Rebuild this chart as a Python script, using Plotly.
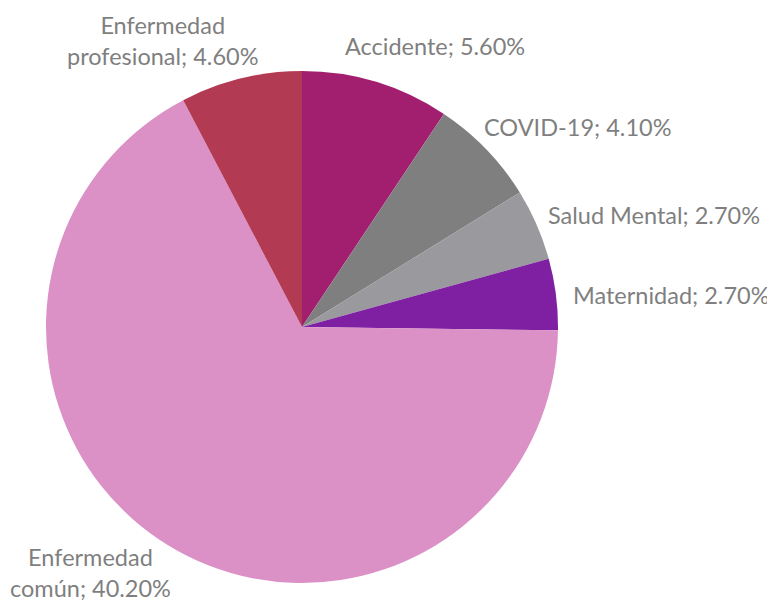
import plotly.graph_objects as go

categories = ["Accidente", "COVID-19", "Salud Mental", "Maternidad",
              "Enfermedad común", "Enfermedad profesional"]
values = [5.60, 4.10, 2.70, 2.70, 40.20, 4.60]
label_texts = ["Accidente; 5.60%", "COVID-19; 4.10%", "Salud Mental; 2.70%",
               "Maternidad; 2.70%", "Enfermedad<br>común; 40.20%",
               "Enfermedad<br>profesional; 4.60%"]
colors = ["#A21F6F", "#7F7F7F", "#9A9A9E", "#7F1FA2", "#DB90C6", "#B33A53"]

W, H = 775, 601
OFF = 8  # page body margin
# label centre positions in pixels (layout only)
label_pos = [(435, 46), (578, 127), (654, 215), (671, 295), (90, 572), (162, 41)]

fig = go.Figure(go.Pie(
    labels=categories,
    values=values,
    sort=False,
    direction="clockwise",
    rotation=0,
    marker=dict(colors=colors, line=dict(width=0)),
    textinfo="none",
    hoverinfo="label+value",
    domain=dict(x=[(46 - OFF) / W, (558 - OFF) / W],
                y=[1 - (583 - OFF) / H, 1 - (71 - OFF) / H]),
    showlegend=False,
))

for txt, (px, py) in zip(label_texts, label_pos):
    fig.add_annotation(
        x=(px - OFF) / W, y=1 - (py - OFF) / H, xref="paper", yref="paper",
        text=txt, showarrow=False, xanchor="center", yanchor="middle",
        font=dict(family="Lato", size=23.5, color="#7F7F7F"),
        align="center",
    )

fig.update_layout(
    width=W, height=H,
    margin=dict(l=0, r=0, t=0, b=0),
    paper_bgcolor="white", plot_bgcolor="white",
)

fig.write_html("out.html")
